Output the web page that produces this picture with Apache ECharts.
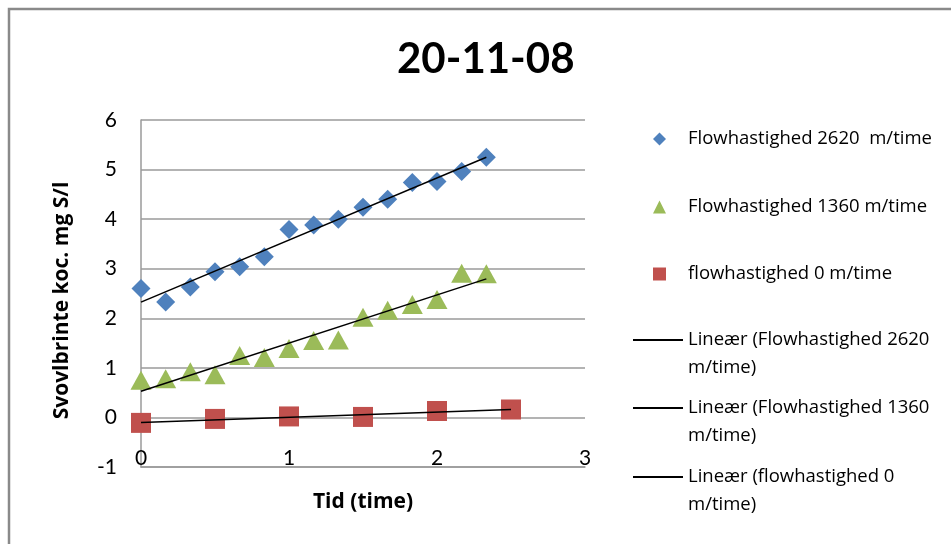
<!DOCTYPE html>
<html>
<head>
<meta charset="utf-8">
<script src="https://cdn.jsdelivr.net/npm/echarts@6/dist/echarts.min.js"></script>
<style>
html,body{margin:0;padding:0;background:#fff;}
#chart{width:951px;height:544px;}
</style>
</head>
<body>
<div id="chart"></div>
<script>
// ---- Data ----
const titleText = "20-11-08";
const xAxisName = "Tid (time)";
const yAxisName = "Svovlbrinte koc. mg S/l";
const xTicks = [0, 1, 2, 3];
const yTicks = [-1, 0, 1, 2, 3, 4, 5, 6];

const seriesNames = ["Flowhastighed 2620  m/time", "Flowhastighed 1360 m/time", "flowhastighed 0 m/time"];
const trendNames = ["Lineær (Flowhastighed 2620 m/time)", "Lineær (Flowhastighed 1360 m/time)", "Lineær (flowhastighed 0 m/time)"];

// time in hours (10-minute steps)
const time2620 = [0, 1/6, 2/6, 3/6, 4/6, 5/6, 1, 7/6, 8/6, 9/6, 10/6, 11/6, 12/6, 13/6, 14/6];
const conc2620 = [2.60, 2.33, 2.63, 2.94, 3.04, 3.24, 3.79, 3.88, 4.00, 4.24, 4.40, 4.74, 4.76, 4.96, 5.25];

const time1360 = [0, 1/6, 2/6, 3/6, 4/6, 5/6, 1, 7/6, 8/6, 9/6, 10/6, 11/6, 12/6, 13/6, 14/6];
const conc1360 = [0.75, 0.78, 0.92, 0.86, 1.25, 1.21, 1.39, 1.55, 1.56, 2.02, 2.16, 2.28, 2.38, 2.91, 2.90];

const time0 = [0, 0.5, 1, 1.5, 2, 2.5];
const conc0 = [-0.11, -0.03, 0.02, 0.01, 0.13, 0.16];

// ---- Helpers ----
function pairs(xs, ys) { return xs.map((x, i) => [x, ys[i]]); }
function linearFit(xs, ys) {
  const n = xs.length;
  const mx = xs.reduce((a, b) => a + b, 0) / n;
  const my = ys.reduce((a, b) => a + b, 0) / n;
  let sxy = 0, sxx = 0;
  for (let i = 0; i < n; i++) { sxy += (xs[i] - mx) * (ys[i] - my); sxx += (xs[i] - mx) * (xs[i] - mx); }
  const b = sxy / sxx, a = my - b * mx;
  const x0 = Math.min(...xs), x1 = Math.max(...xs);
  return [[x0, a + b * x0], [x1, a + b * x1]];
}

const FONT = "Lato";
const LFONT = "Open Sans";
const colors = ["#4F81BD", "#9BBB59", "#C0504D"];
const scatterIcons = ["diamond", "triangle", "rect"];

const legendCenters = [139, 207, 274, 340, 408, 477];
const legends = [];
seriesNames.forEach((name, i) => {
  legends.push({
    data: [{ name: name, icon: scatterIcons[i] }],
    orient: 'vertical',
    left: 653,
    top: legendCenters[i] - 11,
    padding: 0,
    itemWidth: 13,
    itemHeight: 13,
    selectedMode: false,
    textStyle: { fontFamily: LFONT, fontSize: 18.5, color: '#000', lineHeight: 22, padding: [0, 0, 0, 17] }
  });
});
trendNames.forEach((name, i) => {
  legends.push({
    data: [{ name: name, icon: 'rect', itemStyle: { color: '#000' } }],
    orient: 'vertical',
    left: 633,
    top: legendCenters[i + 3] - 42,
    padding: 0,
    itemWidth: 50,
    itemHeight: 2,
    selectedMode: false,
    textStyle: { fontFamily: LFONT, fontSize: 18.5, color: '#000', lineHeight: 28 },
    formatter: function (n) {
      const k = n.lastIndexOf(' ');
      return '\n' + n.slice(0, k) + '\n' + n.slice(k + 1);
    }
  });
});

const chart = echarts.init(document.getElementById('chart'), null, { renderer: 'canvas' });
chart.setOption({
  backgroundColor: '#fff',
  animation: false,
  title: {
    text: titleText,
    left: 397,
    top: 38,
    padding: 0,
    textStyle: { fontFamily: FONT, fontSize: 42, fontWeight: 'bold', color: '#000' }
  },
  graphic: [{
    type: 'rect',
    shape: { x: 9, y: 9, width: 1000, height: 600 },
    style: { fill: 'none', stroke: '#8a8a8a', lineWidth: 2.5 },
    silent: true
  }],
  legend: legends,
  grid: { left: 141, top: 120, right: 366, bottom: 77, containLabel: false },
  xAxis: {
    type: 'value',
    min: xTicks[0], max: xTicks[xTicks.length - 1], interval: 1,
    name: xAxisName, nameLocation: 'middle', nameGap: 25,
    nameTextStyle: { fontFamily: LFONT, fontSize: 21, fontWeight: 'bold', color: '#000' },
    axisLine: { onZero: false, lineStyle: { color: '#9a9a9a', width: 1.5 } },
    axisTick: { show: false },
    splitLine: { show: false },
    axisLabel: { margin: -19, fontFamily: FONT, fontSize: 21, color: '#000' }
  },
  yAxis: {
    type: 'value',
    min: yTicks[0], max: yTicks[yTicks.length - 1], interval: 1,
    name: yAxisName, nameLocation: 'middle', nameGap: 68,
    nameTextStyle: { fontFamily: LFONT, fontSize: 21, fontWeight: 'bold', color: '#000', padding: [0, 14, 0, 0] },
    axisLine: { show: true, lineStyle: { color: '#9a9a9a', width: 1.5 } },
    axisTick: { show: false },
    splitLine: { show: true, lineStyle: { color: '#9a9a9a', width: 1.5 } },
    axisLabel: { margin: 24, fontFamily: FONT, fontSize: 21, color: '#000' }
  },
  series: [
    { name: seriesNames[0], type: 'scatter', symbol: 'diamond', symbolSize: 19, itemStyle: { color: colors[0], opacity: 1 }, data: pairs(time2620, conc2620), z: 2 },
    { name: seriesNames[1], type: 'scatter', symbol: 'triangle', symbolSize: [21, 19], itemStyle: { color: colors[1], opacity: 1 }, data: pairs(time1360, conc1360), z: 2 },
    { name: seriesNames[2], type: 'scatter', symbol: 'rect', symbolSize: 20, itemStyle: { color: colors[2], opacity: 1 }, data: pairs(time0, conc0), z: 2 },
    { name: trendNames[0], type: 'line', symbol: 'none', lineStyle: { color: '#000', width: 1.5 }, itemStyle: { color: '#000' }, data: linearFit(time2620, conc2620), z: 3 },
    { name: trendNames[1], type: 'line', symbol: 'none', lineStyle: { color: '#000', width: 1.5 }, itemStyle: { color: '#000' }, data: linearFit(time1360, conc1360), z: 3 },
    { name: trendNames[2], type: 'line', symbol: 'none', lineStyle: { color: '#000', width: 1.5 }, itemStyle: { color: '#000' }, data: linearFit(time0, conc0), z: 3 }
  ]
});
</script>
</body>
</html>
